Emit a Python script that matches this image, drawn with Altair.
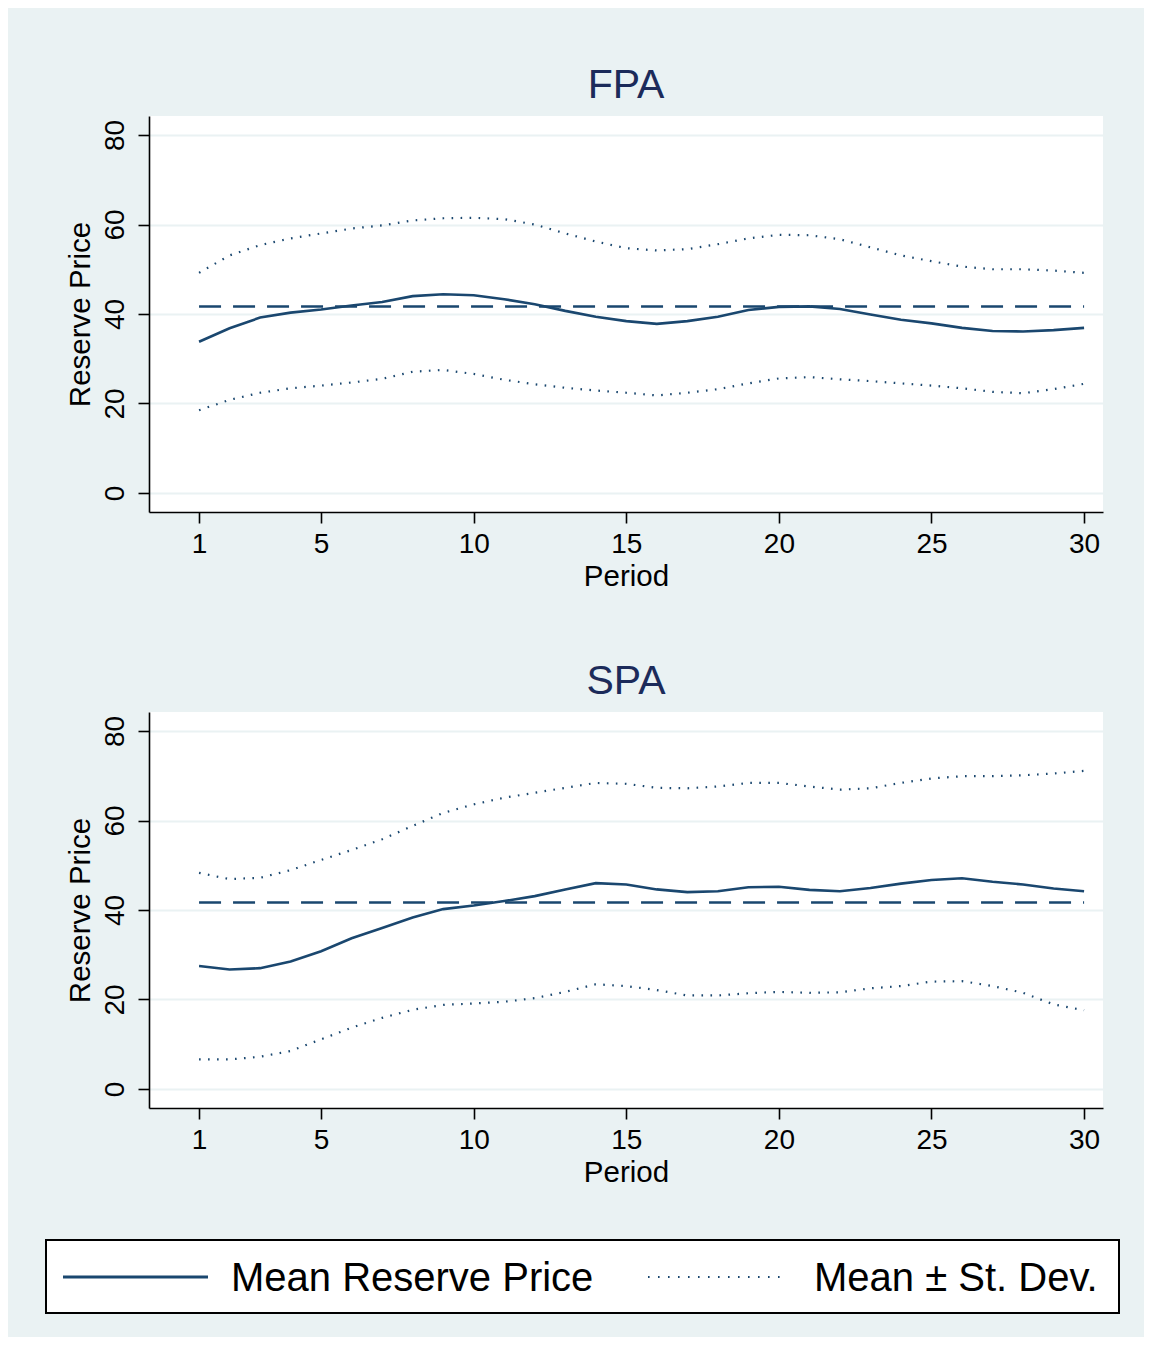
import altair as alt
import pandas as pd

# ---------------- data ----------------
periods = list(range(1, 31))

fpa_mean = [33.8, 36.8, 39.2, 40.3, 41.0, 41.9, 42.7, 44.0, 44.4, 44.2,
            43.3, 42.2, 40.7, 39.4, 38.4, 37.8, 38.4, 39.4, 40.9, 41.6,
            41.7, 41.1, 39.9, 38.7, 37.9, 36.9, 36.2, 36.1, 36.4, 36.9]
fpa_upper = [49.2, 53.1, 55.4, 56.9, 58.0, 59.1, 59.8, 60.9, 61.4, 61.5,
             61.2, 60.0, 58.0, 56.2, 54.7, 54.2, 54.5, 55.6, 56.9, 57.7,
             57.6, 56.7, 54.9, 53.1, 51.8, 50.6, 50.0, 50.0, 49.7, 49.2]
fpa_lower = [18.5, 20.8, 22.4, 23.4, 24.0, 24.7, 25.5, 27.1, 27.5, 26.6,
             25.3, 24.3, 23.5, 22.9, 22.4, 21.8, 22.4, 23.2, 24.5, 25.6,
             25.9, 25.4, 25.0, 24.5, 24.0, 23.4, 22.6, 22.3, 23.2, 24.4]

spa_mean = [27.5, 26.7, 27.0, 28.5, 30.8, 33.7, 36.0, 38.3, 40.2, 41.0,
            42.0, 43.1, 44.6, 46.0, 45.7, 44.6, 44.0, 44.2, 45.1, 45.2,
            44.5, 44.2, 44.9, 45.9, 46.7, 47.1, 46.3, 45.7, 44.8, 44.2]
spa_upper = [48.3, 46.9, 47.2, 48.9, 51.2, 53.4, 55.8, 58.8, 61.7, 63.6,
             65.1, 66.2, 67.3, 68.4, 68.2, 67.3, 67.2, 67.6, 68.4, 68.4,
             67.6, 66.9, 67.2, 68.4, 69.4, 69.9, 69.9, 70.1, 70.5, 71.1]
spa_lower = [6.6, 6.6, 7.2, 8.5, 11.1, 13.7, 15.9, 17.7, 18.8, 19.1,
             19.5, 20.3, 21.7, 23.4, 23.0, 22.1, 20.9, 20.9, 21.4, 21.7,
             21.5, 21.6, 22.5, 23.0, 24.0, 24.1, 23.0, 21.5, 18.9, 17.6]

ref_value = 41.67
ref_start, ref_end = 1, 30

panel_titles = ["FPA", "SPA"]
legend_labels = ["Mean Reserve Price", "Mean \u00b1 St. Dev."]
y_ticks = [0, 20, 40, 60, 80]
x_ticks = [1, 5, 10, 15, 20, 25, 30]
x_title = "Period"
y_title = "Reserve Price"

# ---------------- style ----------------
NAVY = "#1A476F"
BG = "#EAF2F3"
TITLE_COLOR = "#1C2B5A"
FONT = "Liberation Sans"
W, H = 954, 396
X_DOMAIN = [-0.64, 30.62]
Y_DOMAIN = [-4.25, 84.25]


def panel(title, mean, upper, lower, with_legend=False):
    df_mean = pd.DataFrame({"Period": periods, "value": mean})
    df_band = pd.DataFrame({
        "Period": periods + periods,
        "value": upper + lower,
        "band": ["upper"] * len(periods) + ["lower"] * len(periods),
    })
    df_ref = pd.DataFrame({"Period": [ref_start], "Period_end": [ref_end],
                           "value": [ref_value]})

    x_enc = alt.X("Period:Q",
                  scale=alt.Scale(domain=X_DOMAIN, nice=False, zero=False),
                  axis=alt.Axis(values=x_ticks, title=x_title, grid=False,
                                tickSize=11, labelPadding=7, labelFlush=False,
                                labelOverlap=False,
                                titleX=W / 2, titleY=73,
                                titleBaseline="alphabetic", titleAlign="center"))
    y_enc = alt.Y("value:Q",
                  scale=alt.Scale(domain=Y_DOMAIN, nice=False, zero=False),
                  axis=alt.Axis(values=y_ticks, title=y_title, grid=True,
                                tickSize=11, labelAngle=270,
                                labelAlign="center",
                                labelBaseline="alphabetic", labelPadding=15,
                                titleAngle=270, titleX=-60, titleY=H / 2,
                                titleAlign="center",
                                titleBaseline="alphabetic"))

    mean_line = alt.Chart(df_mean).mark_line(
        color=NAVY, strokeWidth=2.6
    ).encode(x=x_enc, y=y_enc)

    band_lines = alt.Chart(df_band).mark_line(
        color=NAVY, strokeWidth=2.2, strokeDash=[1.6, 7.4], strokeCap="butt"
    ).encode(x="Period:Q", y="value:Q", detail="band:N")

    ref_rule = alt.Chart(df_ref).mark_rule(
        color=NAVY, strokeWidth=2.6, strokeDash=[22, 12]
    ).encode(x="Period:Q", x2="Period_end:Q", y="value:Q")

    one = pd.DataFrame({"k": [0]})
    title_text = alt.Chart(one).mark_text(
        align="center", baseline="alphabetic", fontSize=41, font=FONT,
        color=TITLE_COLOR
    ).encode(x=alt.value(W / 2), y=alt.value(-18), text=alt.value(title))

    layers = [mean_line, band_lines, ref_rule, title_text]

    if with_legend:
        box = alt.Chart(one).mark_rect(
            fill="white", stroke="black", strokeWidth=2
        ).encode(x=alt.value(-103), x2=alt.value(970),
                 y=alt.value(528), y2=alt.value(601))
        solid = alt.Chart(one).mark_rule(
            color=NAVY, strokeWidth=3
        ).encode(x=alt.value(-86), x2=alt.value(59), y=alt.value(565))
        dotted = alt.Chart(one).mark_rule(
            color=NAVY, strokeWidth=2, strokeDash=[1.6, 8.4]
        ).encode(x=alt.value(499), x2=alt.value(639), y=alt.value(565))
        lab1 = alt.Chart(one).mark_text(
            align="left", baseline="alphabetic", fontSize=40, font=FONT,
            color="black"
        ).encode(x=alt.value(82), y=alt.value(579),
                 text=alt.value(legend_labels[0]))
        lab2 = alt.Chart(one).mark_text(
            align="left", baseline="alphabetic", fontSize=40, font=FONT,
            color="black"
        ).encode(x=alt.value(665), y=alt.value(579),
                 text=alt.value(legend_labels[1]))
        layers += [box, solid, dotted, lab1, lab2]

    return alt.layer(*layers).properties(width=W, height=H)


top = panel(panel_titles[0], fpa_mean, fpa_upper, fpa_lower)
bottom = panel(panel_titles[1], spa_mean, spa_upper, spa_lower, with_legend=True)

chart = alt.vconcat(top, bottom, spacing=200, bounds="flush").properties(
    background=BG,
    padding={"left": 37, "top": 57, "right": 24, "bottom": 23},
).configure_view(
    strokeWidth=0, fill="white"
).configure_axis(
    domainColor="black", domainWidth=1.6,
    tickColor="black", tickWidth=1.6,
    gridColor=BG, gridWidth=2.2,
    labelFont=FONT, labelFontSize=28, labelColor="black",
    titleFont=FONT, titleFontSize=29.5, titleColor="black",
    titleFontWeight="normal",
)

chart.save("out.html", embed_options={"renderer": "svg", "actions": False})
